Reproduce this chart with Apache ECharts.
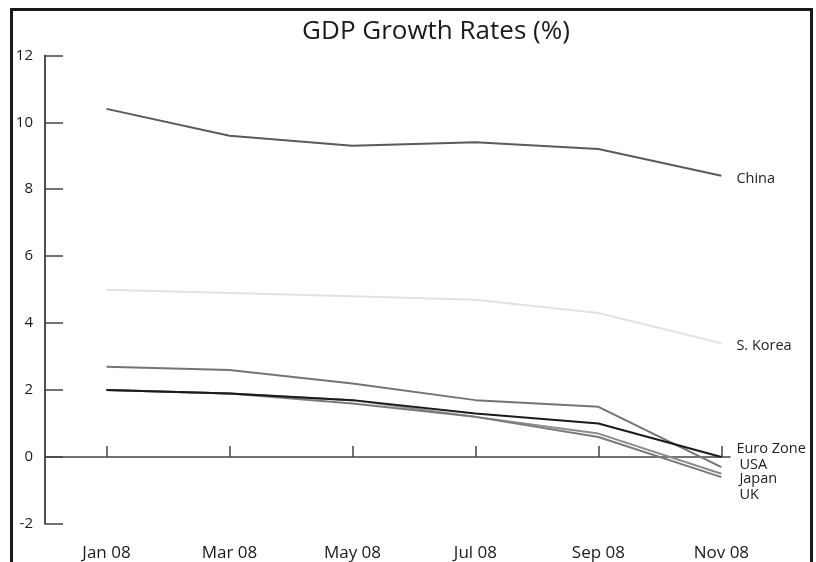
<!DOCTYPE html>
<html>
<head>
<meta charset="utf-8">
<script src="https://cdn.jsdelivr.net/npm/echarts@6/dist/echarts.min.js"></script>
<style>
  html, body { margin: 0; padding: 0; background: #fff; }
  #wrap { position: relative; width: 816px; height: 562px; overflow: hidden; }
  #main { position: absolute; left: 0; top: 0; width: 816px; height: 562px; }
  #frame {
    position: absolute; left: 10px; top: 8px; width: 797px; height: 600px;
    border: 3px solid #1a1a1a; pointer-events: none;
  }
</style>
</head>
<body>
<div id="wrap">
  <div id="main"></div>
  <div id="frame"></div>
</div>
<script>
// months on the x axis
var months = ['Jan 08', 'Mar 08', 'May 08', 'Jul 08', 'Sep 08', 'Nov 08'];
var yTicks = [-2, 0, 2, 4, 6, 8, 10, 12];

// growth rates (%)
var china    = [10.4, 9.6, 9.3, 9.4, 9.2, 8.4];
var sKorea   = [5.0, 4.9, 4.8, 4.7, 4.3, 3.4];
var usa      = [2.7, 2.6, 2.2, 1.7, 1.5, -0.3];
var euroZone = [2.0, 1.9, 1.7, 1.3, 1.0, 0.0];
var japan    = [2.0, 1.9, 1.7, 1.2, 0.7, -0.5];
var uk       = [2.0, 1.9, 1.6, 1.2, 0.6, -0.6];

var font = '"Open Sans", "Noto Sans", sans-serif';
// months sit half a step in from the y axis, which crosses x = 0
var pos = months.map(function (m, i) { return i + 0.5; });
var xMin = 0, xMax = 5.57;
var yMin = yTicks[0], yMax = yTicks[yTicks.length - 1];
var axisColor = '#444';

function pairs(arr) {
  return arr.map(function (v, i) { return [pos[i], v]; });
}

// name, data, colour, label offset
function makeLine(name, data, color, off) {
  return {
    name: name,
    type: 'line',
    data: pairs(data),
    symbol: 'none',
    silent: true,
    lineStyle: { color: color, width: 2 },
    endLabel: {
      show: true,
      formatter: name,
      distance: 0,
      offset: off,
      color: '#222',
      fontFamily: font,
      fontSize: 14.5
    }
  };
}

var chart = echarts.init(document.getElementById('main'));
chart.setOption({
  animation: false,
  backgroundColor: 'transparent',
  title: {
    text: 'GDP Growth Rates (%)',
    left: 436,
    top: 19,
    padding: 0,
    textAlign: 'center',
    textStyle: { fontFamily: font, fontSize: 26, fontWeight: 'normal', color: '#1a1a1a' }
  },
  grid: { left: 45, right: 86, top: 55.3, bottom: 37.7 },
  xAxis: [
    {
      // labels along the bottom
      type: 'value',
      min: xMin,
      max: xMax,
      position: 'bottom',
      axisLine: { show: false, onZero: false },
      axisTick: { show: false },
      splitLine: { show: false },
      axisLabel: {
        customValues: pos,
        margin: 21,
        color: '#1a1a1a',
        fontFamily: font,
        fontSize: 17,
        formatter: function (v) { return months[Math.round(v - 0.5)]; }
      }
    },
    {
      // zero line with upward ticks
      type: 'value',
      min: xMin,
      max: xMax,
      position: 'bottom',
      axisLine: { show: true, onZero: true, lineStyle: { color: axisColor, width: 1.5 } },
      axisTick: { show: true, inside: true, length: 11, customValues: pos, lineStyle: { color: axisColor, width: 1.5 } },
      axisLabel: { show: false },
      splitLine: { show: false }
    }
  ],
  yAxis: {
    type: 'value',
    min: yMin,
    max: yMax,
    interval: 2,
    axisLine: { show: true, onZero: true, lineStyle: { color: axisColor, width: 1.5 } },
    axisTick: { show: true, inside: true, length: 18, lineStyle: { color: axisColor, width: 1.5 } },
    splitLine: { show: false },
    axisLabel: {
      margin: 12,
      color: '#1a1a1a',
      fontFamily: font,
      fontSize: 15,
      padding: [0, 0, 8, 0]
    }
  },
  series: [
    makeLine('China', china, '#5a5a5a', [15, 3]),
    makeLine('S. Korea', sKorea, '#e2e2e2', [15, 3]),
    makeLine('USA', usa, '#747474', [18, -2]),
    makeLine('Japan', japan, '#8c8c8c', [18, 5]),
    makeLine('UK', uk, '#7a7a7a', [18, 18]),
    makeLine('Euro Zone', euroZone, '#1a1a1a', [15, -8])
  ]
});

// vertical axis line along the left edge, placed through the chart's own scales
var p0 = chart.convertToPixel({ xAxisIndex: 0, yAxisIndex: 0 }, [xMin, yMin]);
var p1 = chart.convertToPixel({ xAxisIndex: 0, yAxisIndex: 0 }, [xMin, yMax]);
chart.setOption({
  graphic: [{
    type: 'line',
    z: 100,
    silent: true,
    shape: { x1: p0[0], y1: p0[1], x2: p1[0], y2: p1[1] },
    style: { stroke: axisColor, lineWidth: 1.5 }
  }]
});
</script>
</body>
</html>
